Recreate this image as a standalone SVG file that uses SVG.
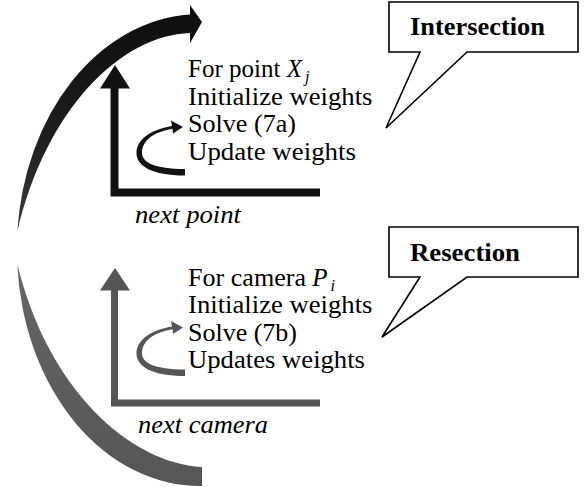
<svg xmlns="http://www.w3.org/2000/svg" width="584" height="487" viewBox="0 0 584 487">
  <defs>
    <linearGradient id="gTop" x1="0" y1="0" x2="0" y2="1">
      <stop offset="0" stop-color="#0d0d0d"/>
      <stop offset="0.6" stop-color="#1e1e1e"/>
      <stop offset="1" stop-color="#3c3c3c"/>
    </linearGradient>
    <linearGradient id="gBot" x1="0" y1="0" x2="0" y2="1">
      <stop offset="0" stop-color="#666"/>
      <stop offset="1" stop-color="#555"/>
    </linearGradient>
  </defs>
  <style>
    .t { font-family: "Liberation Serif", "Times New Roman", serif; font-size: 25px; fill: #000; }
    .it { font-style: italic; }
    .b { font-weight: bold; }
    .sub { font-size: 16px; }
    .call { fill: #fff; stroke: #000; stroke-width: 1.6; stroke-linejoin: miter; }
    .dark { fill: #111; }
    .grey { fill: #555; }
    .barD { fill: none; stroke: #111; stroke-width: 8; }
    .barG { fill: none; stroke: #555; stroke-width: 7; }
  </style>
  <rect width="584" height="487" fill="#fff"/>

  <g id="connectors">
    <!-- big outer arc, upper half (black, arrow) -->
    <path fill="url(#gTop)" d="M 190,14.4 L 190,5 L 202,22 L 190,43.3 L 190,33 C 122,35 46,108 17.3,232 A 183 236 0 0 1 190,14.4 Z"/>
    <!-- big outer arc, lower half (grey) -->
    <path fill="url(#gBot)" d="M 17.3,264 A 183 236 0 0 0 202,486 L 202,467 C 130,463 48,390 17.3,264 Z"/>

    <!-- intersection loop: vertical arrow and baseline -->
    <path class="barD" d="M 114.5,88 V 192.5 H 320"/>
    <polygon class="dark" points="100,88.5 130,88.5 115,65"/>
    <!-- small iteration loop (upper) -->
    <path class="dark" d="M 185,175.5 C 152,175.5 136.5,166 136.5,153 C 136.5,140 150,129.8 172,126 L 171,120.5 L 183,127 L 173,133.5 L 172.5,128.8 C 153,132 142,141 142,153 C 142,162 154,169 185,169 Z"/>

    <!-- resection loop: vertical arrow and baseline -->
    <path class="barG" d="M 114.5,290 V 403 H 320"/>
    <polygon class="grey" points="100,290.5 130,290.5 115,268"/>
    <!-- small iteration loop (lower) -->
    <path class="grey" transform="translate(0,200.5)" d="M 185,175.5 C 152,175.5 136.5,166 136.5,153 C 136.5,140 150,129.8 172,126 L 171,120.5 L 183,127 L 173,133.5 L 172.5,128.8 C 153,132 142,141 142,153 C 142,162 154,169 185,169 Z"/>
  </g>

  <g id="intersection-steps">
    <text class="t" x="188" y="77">For point <tspan class="it">X</tspan><tspan class="it sub" dx="3" dy="5">j</tspan></text>
    <text class="t" x="188" y="104.5" textLength="184.5" lengthAdjust="spacingAndGlyphs">Initialize weights</text>
    <text class="t" x="188" y="132" textLength="108" lengthAdjust="spacingAndGlyphs">Solve (7a)</text>
    <text class="t" x="188" y="159.5" textLength="168" lengthAdjust="spacingAndGlyphs">Update weights</text>
    <text class="t it" x="135" y="223" textLength="106" lengthAdjust="spacingAndGlyphs">next point</text>
  </g>

  <g id="resection-steps">
    <text class="t" x="188" y="285.5"><tspan textLength="118" lengthAdjust="spacingAndGlyphs">For camera</tspan> <tspan class="it">P</tspan><tspan class="it sub" dx="3" dy="5">i</tspan></text>
    <text class="t" x="188" y="313" textLength="184.5" lengthAdjust="spacingAndGlyphs">Initialize weights</text>
    <text class="t" x="188" y="340.5" textLength="109" lengthAdjust="spacingAndGlyphs">Solve (7b)</text>
    <text class="t" x="188" y="368" textLength="177" lengthAdjust="spacingAndGlyphs">Updates weights</text>
    <text class="t it" x="138" y="433" textLength="130" lengthAdjust="spacingAndGlyphs">next camera</text>
  </g>

  <g id="intersection-callout">
    <polygon class="call" points="389,2 578,2 578,52 467,52 386,128 420,52 389,52"/>
    <text class="t b" x="410" y="35" textLength="135" lengthAdjust="spacingAndGlyphs">Intersection</text>
  </g>

  <g id="resection-callout">
    <polygon class="call" points="389,227 578,227 578,277 467,277 382,337 420,277 389,277"/>
    <text class="t b" x="410" y="261" textLength="110" lengthAdjust="spacingAndGlyphs">Resection</text>
  </g>
</svg>
